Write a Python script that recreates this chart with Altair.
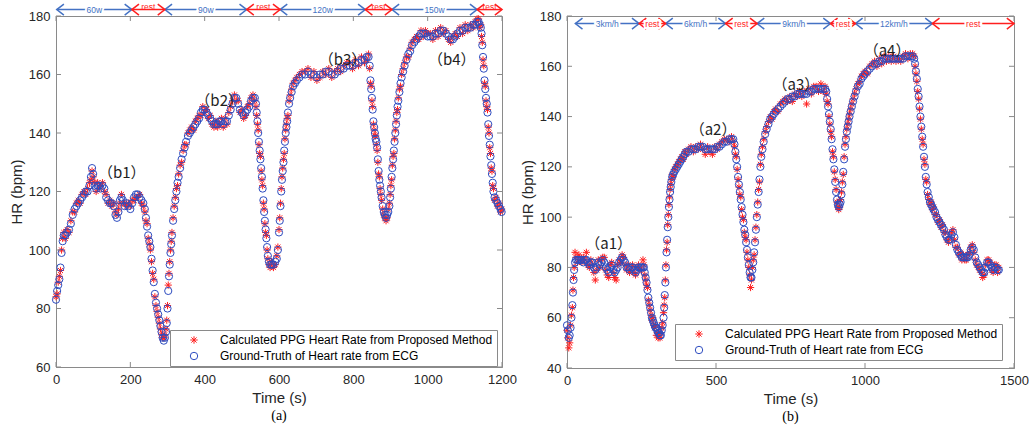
import altair as alt
import pandas as pd

PPG_LABEL = "Calculated PPG Heart Rate from Proposed Method"
ECG_LABEL = "Ground-Truth of Heart rate from ECG"

# ---------------- Panel (a): cycling, 60w / 90w / 120w / 150w ----------------
T_A = [0, 3, 6, 9, 12, 15, 18, 21, 25, 30,
       35, 40, 45, 50, 55, 60, 65, 70, 75, 80,
       85, 90, 94, 97, 100, 104, 108, 112, 116, 120,
       125, 130, 135, 140, 145, 150, 155, 160, 164, 168,
       172, 176, 180, 185, 190, 195, 200, 205, 210, 215,
       220, 225, 230, 235, 239, 242, 245, 248, 251, 254,
       257, 260, 263, 266, 269, 272, 275, 278, 281, 284,
       287, 290, 293, 296, 298, 300, 302, 304, 306, 308,
       310, 312, 315, 318, 321, 324, 327, 330, 334, 338,
       342, 346, 350, 355, 360, 365, 370, 375, 380, 385,
       390, 395, 400, 405, 410, 415, 420, 425, 430, 435,
       440, 445, 450, 455, 460, 465, 470, 475, 480, 485,
       490, 495, 500, 505, 510, 515, 520, 525, 530, 535,
       538, 540, 542, 544, 546, 548, 550, 552, 554, 556,
       558, 560, 562, 564, 566, 568, 570, 573, 576, 580,
       585, 590, 594, 597, 600, 602, 604, 606, 608, 610,
       612, 614, 616, 618, 620, 622, 624, 627, 630, 634,
       638, 643, 648, 655, 662, 670, 678, 686, 694, 702,
       710, 718, 726, 734, 742, 750, 758, 766, 774, 782,
       790, 798, 806, 814, 822, 830, 836, 841, 844, 846,
       848, 850, 852, 854, 856, 858, 860, 862, 864, 866,
       868, 870, 872, 874, 876, 879, 882, 885, 888, 891,
       894, 897, 899, 901, 903, 905, 907, 909, 911, 913,
       915, 917, 919, 921, 924, 927, 930, 934, 938, 943,
       948, 953, 958, 964, 970, 976, 982, 988, 994, 1000,
       1007, 1014, 1021, 1028, 1035, 1042, 1049, 1056, 1062, 1068,
       1074, 1080, 1087, 1094, 1101, 1108, 1115, 1122, 1128, 1133,
       1137, 1140, 1143, 1145, 1147, 1149, 1151, 1153, 1155, 1157,
       1159, 1161, 1163, 1165, 1167, 1169, 1171, 1173, 1175, 1177,
       1180, 1184, 1188, 1192, 1196, 1199]
ECG_A = [83, 86, 88, 90, 94, 99, 103, 105, 105, 106,
         107, 109, 112, 114, 115, 116, 117, 118, 119, 120,
         120, 122, 125, 128, 126, 122, 121, 122, 122, 121,
         122, 121, 118, 117, 116, 116, 115, 112, 111, 113,
         117, 118, 117, 115, 116, 115, 114, 116, 118, 119,
         119, 118, 117, 116, 114, 111, 108, 105, 103, 101,
         97, 93, 89, 85, 82, 80, 78, 76, 74, 72,
         70, 69, 70, 72, 75, 80, 86, 91, 95, 99,
         102, 105, 110, 114, 117, 120, 123, 125, 128, 131,
         133, 135, 137, 139, 140, 141, 142, 143, 144, 145,
         147, 148, 148, 147, 146, 145, 144, 143, 143, 143,
         144, 144, 143, 144, 144, 146, 148, 150, 152, 152,
         150, 148, 147, 146, 147, 148, 149, 151, 152, 152,
         150, 147, 144, 140, 137, 134, 131, 128, 125, 121,
         117, 113, 110, 107, 104, 101, 98, 96, 95, 95,
         95, 96, 97, 100, 106, 110, 115, 120, 124, 127,
         130, 134, 137, 140, 142, 144, 147, 150, 152, 154,
         156, 157, 158, 159, 160, 160, 161, 160, 160, 159,
         160, 160, 161, 161, 160, 160, 161, 162, 162, 163,
         163, 163, 164, 164, 165, 165, 166, 166, 163, 158,
         155, 152, 148, 144, 142, 140, 138, 137, 135, 131,
         127, 124, 122, 120, 118, 115, 113, 112, 111, 112,
         113, 115, 118, 121, 125, 128, 131, 134, 137, 140,
         143, 146, 149, 151, 154, 157, 159, 161, 163, 165,
         167, 168, 170, 171, 172, 173, 174, 174, 174, 173,
         173, 173, 174, 174, 175, 175, 174, 173, 172, 172,
         173, 174, 175, 175, 176, 176, 176, 177, 177, 178,
         178, 177, 176, 174, 170, 166, 162, 158, 155, 152,
         150, 147, 143, 139, 136, 132, 129, 126, 123, 120,
         118, 117, 116, 115, 114, 113]
PPG_A = [84, 85, 89, 91, 93, 100, 104, 106, 104, 107,
         106, 110, 113, 113, 116, 117, 116, 119, 120, 119,
         121, 123, 124, 127, 125, 123, 120, 123, 121, 122,
         123, 120, 119, 116, 117, 115, 116, 113, 112, 114,
         116, 119, 116, 116, 115, 116, 115, 117, 117, 118,
         118, 119, 116, 115, 113, 110, 109, 104, 102, 100,
         96, 92, 90, 84, 81, 79, 77, 75, 73, 71,
         70, 70, 71, 73, 76, 81, 88, 92, 96, 100,
         103, 106, 111, 115, 118, 121, 122, 126, 129, 130,
         134, 136, 136, 140, 141, 142, 141, 144, 145, 146,
         146, 149, 147, 148, 145, 146, 143, 142, 144, 142,
         143, 145, 142, 145, 143, 147, 149, 151, 153, 151,
         151, 147, 148, 145, 146, 149, 150, 152, 153, 151,
         149, 146, 143, 141, 136, 133, 132, 127, 124, 122,
         116, 114, 109, 106, 105, 100, 97, 95, 94, 96,
         94, 95, 98, 101, 107, 111, 116, 121, 125, 128,
         131, 133, 138, 141, 143, 145, 146, 151, 153, 155,
         157, 158, 159, 160, 161, 161, 162, 159, 161, 158,
         159, 161, 160, 162, 159, 161, 162, 161, 163, 164,
         164, 162, 165, 163, 166, 164, 165, 167, 162, 157,
         156, 151, 149, 143, 141, 139, 139, 136, 134, 130,
         126, 125, 121, 119, 117, 114, 112, 111, 110, 111,
         114, 116, 119, 122, 124, 129, 132, 133, 138, 141,
         144, 147, 148, 152, 155, 156, 160, 162, 164, 166,
         166, 169, 171, 172, 173, 172, 175, 173, 175, 174,
         174, 172, 175, 173, 176, 174, 175, 172, 171, 173,
         174, 173, 176, 174, 177, 175, 177, 176, 178, 179,
         179, 176, 177, 173, 171, 165, 163, 157, 156, 151,
         149, 148, 142, 140, 135, 133, 128, 127, 122, 121,
         117, 118, 115, 116, 113, 114]

# ---------------- Panel (b): treadmill, 3 / 6 / 9 / 12 km/h ----------------
T_B = [0, 3, 6, 9, 12, 15, 18, 20, 22, 24,
       27, 30, 35, 40, 45, 50, 55, 60, 65, 70,
       75, 80, 85, 90, 95, 100, 105, 110, 115, 120,
       125, 130, 135, 140, 145, 150, 155, 160, 165, 170,
       175, 180, 185, 190, 195, 200, 205, 210, 215, 220,
       225, 230, 235, 240, 245, 250, 255, 258, 261, 264,
       267, 270, 273, 276, 279, 282, 285, 288, 291, 294,
       297, 300, 303, 306, 309, 312, 315, 318, 321, 324,
       326, 328, 330, 332, 334, 336, 338, 340, 342, 344,
       346, 348, 350, 353, 356, 360, 365, 370, 375, 380,
       385, 390, 395, 400, 408, 416, 424, 432, 440, 448,
       456, 464, 472, 480, 488, 496, 504, 512, 520, 528,
       536, 544, 552, 558, 562, 565, 568, 571, 574, 577,
       580, 583, 586, 589, 592, 595, 598, 601, 604, 607,
       610, 613, 616, 619, 622, 625, 628, 631, 634, 637,
       640, 643, 646, 649, 652, 656, 660, 665, 670, 676,
       682, 688, 694, 700, 708, 716, 724, 732, 740, 748,
       756, 764, 772, 780, 788, 796, 804, 812, 820, 828,
       836, 844, 852, 860, 866, 870, 873, 876, 879, 882,
       885, 888, 891, 894, 897, 900, 903, 906, 909, 912,
       915, 918, 921, 924, 927, 930, 933, 936, 939, 942,
       945, 948, 952, 956, 960, 965, 970, 976, 982, 988,
       994, 1000, 1008, 1016, 1024, 1032, 1040, 1048, 1056, 1064,
       1072, 1080, 1088, 1096, 1104, 1112, 1120, 1128, 1136, 1144,
       1152, 1160, 1165, 1168, 1171, 1174, 1177, 1180, 1183, 1186,
       1189, 1192, 1195, 1198, 1201, 1204, 1207, 1210, 1214, 1218,
       1222, 1226, 1230, 1235, 1240, 1245, 1250, 1255, 1260, 1265,
       1270, 1275, 1280, 1285, 1290, 1295, 1300, 1305, 1310, 1315,
       1320, 1325, 1330, 1335, 1340, 1345, 1350, 1355, 1360, 1365,
       1370, 1375, 1380, 1385, 1390, 1395, 1400, 1405, 1410, 1415,
       1420, 1425, 1430, 1435, 1440, 1445, 1449]
ECG_B = [57, 55, 52, 53, 56, 60, 65, 70, 75, 79,
         82, 83, 83, 83, 83, 83, 82, 83, 83, 82,
         81, 82, 82, 80, 79, 80, 82, 81, 82, 83,
         82, 80, 79, 78, 80, 81, 79, 78, 79, 80,
         82, 83, 84, 83, 82, 80, 80, 79, 80, 80,
         79, 78, 79, 80, 80, 80, 80, 80, 78, 76,
         74, 71, 68, 66, 64, 62, 60, 59, 58, 57,
         56, 56, 55, 54, 54, 53, 53, 55, 57, 60,
         64, 69, 74, 80, 86, 91, 96, 100, 104, 107,
         110, 112, 114, 116, 117, 118, 119, 120, 121, 122,
         123, 124, 125, 126, 126, 127, 127, 127, 128, 128,
         128, 127, 127, 127, 127, 127, 128, 128, 129, 130,
         130, 131, 131, 131, 129, 126, 123, 120, 116, 113,
         110, 107, 104, 101, 98, 95, 93, 90, 87, 84,
         81, 78, 76, 76, 79, 82, 86, 90, 95, 100,
         105, 110, 115, 120, 124, 127, 130, 133, 135, 137,
         139, 140, 141, 142, 143, 144, 145, 146, 147, 147,
         148, 148, 149, 149, 149, 149, 149, 150, 150, 151,
         151, 151, 151, 151, 151, 150, 147, 144, 141, 138,
         135, 131, 127, 123, 119, 114, 110, 107, 105, 104,
         105, 106, 109, 113, 118, 123, 128, 131, 134, 136,
         138, 140, 142, 144, 146, 148, 150, 152, 153, 155,
         156, 157, 158, 159, 160, 161, 161, 162, 162, 163,
         163, 163, 163, 163, 163, 163, 163, 163, 164, 164,
         164, 164, 163, 161, 158, 155, 151, 148, 144, 140,
         136, 132, 128, 124, 120, 116, 113, 110, 108, 106,
         105, 104, 103, 102, 100, 99, 98, 97, 96, 95,
         93, 92, 91, 91, 93, 94, 92, 89, 87, 86,
         85, 84, 84, 84, 84, 84, 85, 87, 88, 87,
         84, 82, 81, 80, 79, 78, 78, 80, 82, 82,
         81, 80, 79, 80, 80, 79, 79]
PPG_B = [55, 52, 48, 50, 57, 61, 64, 71, 76, 80,
         86, 84, 82, 85, 83, 82, 84, 83, 86, 81,
         80, 83, 81, 78, 75, 79, 83, 80, 83, 84,
         84, 79, 77, 76, 81, 82, 78, 76, 75, 81,
         83, 82, 85, 84, 81, 79, 81, 78, 79, 81,
         78, 77, 80, 81, 79, 79, 83, 81, 77, 75,
         73, 72, 67, 65, 63, 61, 59, 60, 57, 56,
         57, 53, 54, 52, 53, 52, 54, 56, 58, 62,
         65, 68, 75, 81, 87, 90, 97, 101, 105, 108,
         111, 113, 115, 117, 116, 119, 120, 121, 122, 123,
         124, 123, 126, 125, 127, 128, 126, 128, 127, 129,
         127, 125, 128, 126, 125, 128, 127, 129, 130, 131,
         131, 130, 132, 130, 128, 125, 124, 119, 115, 112,
         109, 108, 103, 100, 99, 94, 92, 91, 86, 83,
         80, 77, 72, 75, 80, 83, 85, 91, 96, 101,
         106, 111, 114, 121, 125, 128, 131, 134, 136, 138,
         140, 139, 142, 143, 142, 145, 146, 147, 146, 148,
         146, 149, 148, 150, 148, 150, 145, 151, 149, 152,
         152, 150, 153, 150, 152, 149, 146, 145, 140, 137,
         134, 132, 126, 124, 118, 115, 111, 106, 104, 103,
         104, 107, 110, 114, 117, 124, 129, 132, 135, 137,
         139, 141, 143, 145, 147, 149, 151, 153, 154, 156,
         157, 158, 157, 160, 161, 162, 160, 163, 161, 164,
         162, 164, 162, 164, 162, 163, 162, 164, 165, 163,
         165, 165, 164, 160, 157, 154, 150, 147, 143, 139,
         135, 131, 129, 123, 121, 115, 114, 109, 107, 105,
         106, 103, 104, 101, 101, 98, 99, 96, 97, 94,
         94, 91, 90, 92, 94, 95, 91, 88, 88, 85,
         86, 83, 85, 83, 83, 85, 86, 88, 89, 86,
         83, 81, 80, 79, 78, 76, 77, 81, 83, 83,
         82, 79, 78, 81, 81, 78, 80]

# axes ticks
XTICKS_A = [0, 200, 400, 600, 800, 1000, 1200]
YTICKS_A = [60, 80, 100, 120, 140, 160, 180]
XTICKS_B = [0, 500, 1000, 1500]
YTICKS_B = [40, 60, 80, 100, 120, 140, 160, 180]

# protocol arrows (seconds)
SEG_A_START = [2, 204, 293, 513, 603, 832, 904, 1133]
SEG_A_END = [204, 293, 513, 603, 832, 904, 1133, 1200]
SEG_A_LABEL = ["60w", "rest", "90w", "rest", "120w", "rest", "150w", "rest"]
SEG_B_START = [28, 242, 331, 532, 638, 884, 968, 1226]
SEG_B_END = [242, 331, 532, 638, 884, 968, 1226, 1500]
SEG_B_LABEL = ["3km/h", "rest", "6km/h", "rest", "9km/h", "rest", "12km/h", "rest"]

# annotations
ANN_A_T = [177, 439, 771, 1065]
ANN_A_HR = [126.2, 150.8, 165.1, 165.1]
ANN_A_LABEL = ["（b1）", "（b2）", "（b3）", "（b4）"]
ANN_B_T = [140, 490, 768, 1074]
ANN_B_HR = [89.3, 134.6, 152.4, 166.2]
ANN_B_LABEL = ["（a1）", "（a2）", "（a3）", "（a4）"]

RED = "#ff1f1f"
BLUE = "#2d4cc0"
ABLUE = "#4472c4"
AXC = "#8a8a8a"
FONT = "Liberation Sans"
ASTER = "M-1,0L1,0M0,-1L0,1M-0.7,-0.7L0.7,0.7M-0.7,0.7L0.7,-0.7"
LHEAD = "M1.3,-1L0,0L1.3,1"
RHEAD = "M-1.3,-1L0,0L-1.3,1"


def panel(T, ECG, PPG, xdom, ydom, xticks, yticks, s0, s1, slab, arrow_y,
          rest_dy, ann_t, ann_hr, ann_lab, legx, legy, caption, W, H):
    xs = alt.Scale(domain=xdom, nice=False, zero=False)
    ys = alt.Scale(domain=ydom, nice=False, zero=False)
    df = pd.DataFrame({
        "t": list(T) + list(T),
        "hr": list(PPG) + list(ECG),
        "series": [PPG_LABEL] * len(T) + [ECG_LABEL] * len(T),
    })
    legend = alt.Legend(title=None, orient="none", legendX=legx, legendY=legy,
                        direction="vertical", fillColor="white", strokeColor=AXC,
                        padding=4, labelFont=FONT, labelFontSize=12,
                        labelColor="#000000", labelLimit=0, symbolSize=55,
                        symbolStrokeWidth=1, symbolOffset=14, labelOffset=20,
                        rowPadding=4)
    dom = [PPG_LABEL, ECG_LABEL]
    points = alt.Chart(df).mark_point(filled=False, opacity=1, strokeWidth=1, size=52).encode(
        x=alt.X("t:Q", scale=xs, axis=alt.Axis(values=xticks, title="Time (s)", format="d")),
        y=alt.Y("hr:Q", scale=ys, axis=alt.Axis(values=yticks, title="HR (bpm)", format="d")),
        color=alt.Color("series:N", scale=alt.Scale(domain=dom, range=[RED, BLUE]), legend=legend),
        shape=alt.Shape("series:N", scale=alt.Scale(domain=dom, range=[ASTER, "circle"]), legend=legend),
    )

    seg = pd.DataFrame({"start": s0, "end": s1, "label": slab})
    ydat = alt.Y(datum=arrow_y, type="quantitative", scale=ys)
    layers = [points]
    for cond, col in (("datum.label != 'rest'", ABLUE), ("datum.label == 'rest'", RED)):
        base = alt.Chart(seg).transform_filter(cond)
        layers.append(base.mark_rule(color=col, strokeWidth=1.5).encode(
            x=alt.X("start:Q", scale=xs), x2="end:Q", y=ydat))
        layers.append(base.mark_point(shape=LHEAD, filled=False, size=121, strokeWidth=1.5,
                                      color=col, opacity=1).encode(
            x=alt.X("start:Q", scale=xs), y=ydat))
        layers.append(base.mark_point(shape=RHEAD, filled=False, size=121, strokeWidth=1.5,
                                      color=col, opacity=1).encode(
            x=alt.X("end:Q", scale=xs), y=ydat))
        dy = rest_dy if col == RED else 0
        tb = base.transform_calculate(mid="(datum.start + datum.end) / 2")
        if dy == 0:
            layers.append(tb.mark_text(font=FONT, fontSize=8.5, color="white", stroke="white",
                                       strokeWidth=4).encode(
                x=alt.X("mid:Q", scale=xs), y=ydat, text="label:N"))
        layers.append(tb.mark_text(font=FONT, fontSize=8.5, color=col, dy=dy).encode(
            x=alt.X("mid:Q", scale=xs), y=ydat, text="label:N"))

    ann = pd.DataFrame({"t": ann_t, "hr": ann_hr, "label": ann_lab})
    layers.append(alt.Chart(ann).mark_text(font="Noto Sans CJK SC", fontSize=15,
                                           color="#1e1e1e").encode(
        x=alt.X("t:Q", scale=xs), y=alt.Y("hr:Q", scale=ys), text="label:N"))

    xt = pd.DataFrame({"v": xticks})
    yt = pd.DataFrame({"v": yticks})
    layers.append(alt.Chart(xt).mark_rule(color=AXC).encode(
        x=alt.X("v:Q", scale=xs), y=alt.value(H), y2=alt.value(H - 5)))
    layers.append(alt.Chart(xt).mark_rule(color=AXC).encode(
        x=alt.X("v:Q", scale=xs), y=alt.value(0), y2=alt.value(5)))
    layers.append(alt.Chart(yt).mark_rule(color=AXC).encode(
        y=alt.Y("v:Q", scale=ys), x=alt.value(0), x2=alt.value(5)))
    layers.append(alt.Chart(yt).mark_rule(color=AXC).encode(
        y=alt.Y("v:Q", scale=ys), x=alt.value(W), x2=alt.value(W - 5)))

    return alt.layer(*layers).properties(
        width=W, height=H,
        title=alt.TitleParams(caption, orient="bottom", font="Liberation Serif", fontSize=14,
                              fontWeight="normal", color="#000000", offset=4, anchor="middle"))


left = panel(T_A, ECG_A, PPG_A, [0, 1200], [60, 180], XTICKS_A, YTICKS_A,
             SEG_A_START, SEG_A_END, SEG_A_LABEL, 182.2, -2.5,
             ANN_A_T, ANN_A_HR, ANN_A_LABEL, 114, 314, "(a)", 446, 351)
right = panel(T_B, ECG_B, PPG_B, [0, 1500], [40, 180], XTICKS_B, YTICKS_B,
              SEG_B_START, SEG_B_END, SEG_B_LABEL, 177, 0,
              ANN_B_T, ANN_B_HR, ANN_B_LABEL, 108, 308, "(b)", 447, 352)

chart = alt.hconcat(left, right, spacing=2).resolve_scale(
    x="independent", y="independent", color="independent", shape="independent"
).resolve_legend(color="independent", shape="independent").properties(
    padding={"left": 8, "top": 0, "right": 0, "bottom": 0}
).configure(background="white").configure_view(
    stroke=AXC, strokeWidth=1
).configure_axis(
    domainColor=AXC, grid=False, ticks=False, labelFont=FONT, labelFontSize=13,
    labelColor="#262626", titleFont=FONT, titleFontSize=15, titleFontWeight="normal",
    titleColor="#262626", labelPadding=6, titlePadding=4, labelFlush=False
)

chart.save("out.html", embed_options={"renderer": "svg", "actions": False})
